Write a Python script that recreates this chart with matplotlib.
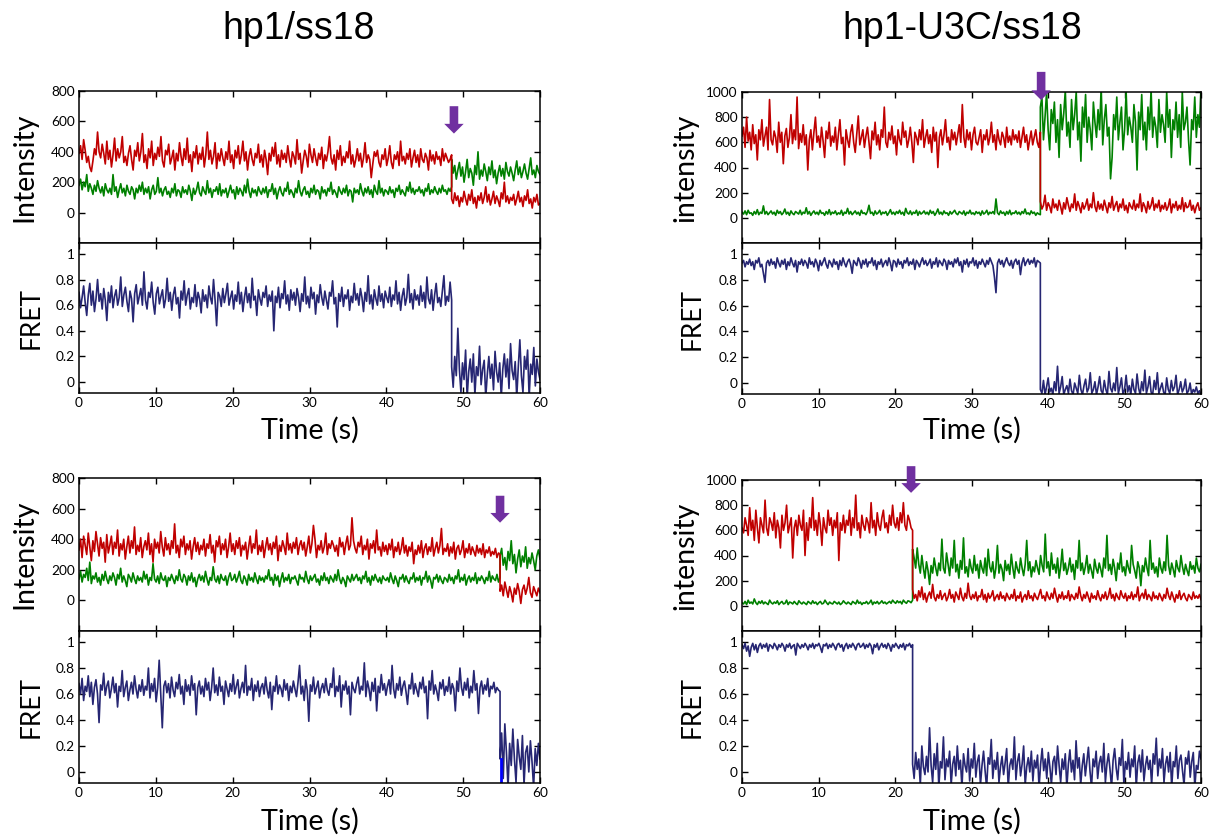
import numpy as np
import matplotlib
matplotlib.use('Agg')
import matplotlib.pyplot as plt
from matplotlib.ticker import FuncFormatter

plt.rcParams['font.family'] = ['Lato', 'DejaVu Sans']

W, H = 1211, 836
RED = '#C00000'
GREEN = '#008000'
NAVY = '#262673'
ARROW = '#7030A0'

# ---------------- Panel 1 : hp1/ss18 (top) ----------------
p1_step = 48.5
p1_red_pre = [
    390, 440, 350, 480, 410, 330, 370, 300, 270, 340, 420, 380, 530, 400, 360, 450, 390, 320, 470, 350,
    410, 300, 380, 490, 340, 420, 360, 400, 500, 330, 370, 310, 390, 440, 350, 280, 410, 370, 460, 340,
    400, 520, 330, 380, 290, 420, 360, 470, 310, 390, 350, 430, 370, 500, 340, 300, 410, 380, 450, 320,
    360, 410, 280, 390, 340, 460, 370, 310, 420, 350, 490, 330, 380, 270, 400, 360, 440, 320, 390, 350,
    430, 300, 380, 530, 350, 410, 320, 370, 460, 290, 390, 340, 420, 360, 310, 400, 350, 470, 330, 380,
    290, 410, 360, 440, 320, 380, 470, 340, 400, 280, 370, 420, 350, 310, 390, 360, 450, 330, 380, 300,
    410, 350, 250, 390, 340, 430, 370, 460, 320, 380, 300, 410, 350, 390, 330, 440, 360, 300, 400, 370,
    320, 480, 350, 390, 260, 340, 410, 370, 300, 450, 380, 330, 420, 360, 310, 390, 350, 430, 290, 380,
    340, 400, 500, 360, 320, 380, 280, 410, 350, 440, 310, 370, 330, 400, 360, 470, 320, 380, 300, 350,
    420, 340, 390, 300, 360, 460, 330, 380, 350, 230, 320, 400, 370, 410, 330, 300, 380, 350, 420, 310,
    360, 440, 330, 290, 380, 350, 400, 310, 470, 340, 370, 320, 390, 350, 420, 300, 360, 410, 330, 380,
    300, 420, 350, 330, 390, 360, 280, 410, 340, 380, 320, 400, 350, 370, 310, 420, 340, 390, 360, 330,
    350, 380]
p1_red_post = [
    90, 60, 130, 80, 110, 40, 100, 70, 140, 90, 50, 120, 80, 150, 60, 100, 30, 110, 80, 130,
    60, 100, 170, 70, 120, 50, 90, 140, 60, 110, 80, 40, 130, 90, 200, 70, 110, 60, 100, 80,
    120, 50, 90, 140, 70, 100, 40, 110, 80, 150, 60, 90, 30, 100, 70, 120, 50, 60]
p1_green_pre = [
    180, 220, 150, 200, 170, 250, 140, 190, 160, 120, 180, 140, 210, 160, 130, 170, 110, 190, 150, 130,
    160, 120, 250, 140, 170, 100, 150, 190, 130, 160, 110, 180, 140, 120, 170, 150, 90, 160, 130, 180,
    140, 200, 120, 160, 130, 170, 90, 150, 180, 120, 140, 230, 130, 160, 110, 150, 170, 120, 140, 100,
    160, 130, 190, 110, 150, 140, 100, 170, 130, 150, 120, 180, 140, 80, 160, 120, 150, 200, 130, 110,
    170, 140, 120, 210, 130, 160, 100, 150, 140, 170, 120, 190, 110, 150, 130, 160, 100, 140, 180, 130,
    150, 90, 170, 120, 160, 140, 110, 180, 130, 220, 140, 100, 160, 130, 150, 110, 170, 140, 120, 160,
    130, 170, 100, 150, 140, 190, 120, 160, 90, 140, 170, 130, 110, 160, 140, 200, 120, 150, 130, 100,
    160, 130, 210, 140, 110, 150, 170, 120, 140, 100, 160, 130, 180, 120, 150, 140, 90, 170, 130, 150,
    110, 160, 140, 200, 120, 150, 130, 100, 170, 140, 120, 160, 130, 180, 110, 150, 140, 70, 160, 130,
    150, 120, 190, 140, 110, 160, 130, 170, 120, 150, 100, 180, 140, 120, 210, 130, 160, 110, 150, 140,
    120, 170, 130, 150, 100, 160, 140, 180, 120, 150, 130, 110, 170, 140, 200, 130, 160, 120, 150, 140,
    170, 130, 150, 110, 160, 140, 190, 120, 150, 130, 170, 140, 120, 160, 130, 180, 140, 150, 120, 160,
    140, 170]
p1_green_post = [
    350, 260, 310, 220, 280, 330, 240, 300, 200, 270, 350, 230, 290, 260, 180, 310, 250, 400, 220, 280,
    240, 320, 270, 210, 300, 250, 340, 230, 280, 190, 260, 310, 240, 290, 220, 330, 270, 240, 300, 260,
    210, 280, 340, 250, 300, 230, 270, 320, 260, 220, 290, 360, 250, 280, 230, 310, 270, 250]
p1_fret_pre = [
    0.70, 0.58, 0.66, 0.75, 0.62, 0.52, 0.68, 0.77, 0.60, 0.71, 0.55, 0.65, 0.80, 0.63, 0.69, 0.57, 0.73, 0.64, 0.48, 0.70,
    0.62, 0.75, 0.58, 0.67, 0.72, 0.60, 0.66, 0.82, 0.59, 0.68, 0.74, 0.63, 0.55, 0.71, 0.65, 0.47, 0.69, 0.76, 0.61, 0.67,
    0.73, 0.60, 0.86, 0.64, 0.57, 0.70, 0.66, 0.78, 0.62, 0.53, 0.69, 0.74, 0.61, 0.67, 0.72, 0.58, 0.65, 0.81, 0.63, 0.70,
    0.56, 0.68, 0.74, 0.61, 0.66, 0.50, 0.71, 0.64, 0.79, 0.60, 0.68, 0.73, 0.57, 0.66, 0.62, 0.76, 0.59, 0.70, 0.65, 0.54,
    0.72, 0.63, 0.68, 0.58, 0.75, 0.66, 0.61, 0.80, 0.64, 0.44, 0.70, 0.67, 0.59, 0.73, 0.62, 0.69, 0.77, 0.60, 0.66, 0.71,
    0.57, 0.68, 0.63, 0.78, 0.61, 0.70, 0.55, 0.66, 0.74, 0.62, 0.69, 0.58, 0.81, 0.64, 0.67, 0.52, 0.72, 0.65, 0.60, 0.70,
    0.66, 0.75, 0.59, 0.68, 0.63, 0.71, 0.40, 0.67, 0.62, 0.74, 0.58, 0.69, 0.65, 0.79, 0.61, 0.68, 0.56, 0.72, 0.64, 0.70,
    0.60, 0.73, 0.66, 0.55, 0.69, 0.63, 0.82, 0.61, 0.67, 0.58, 0.74, 0.65, 0.70, 0.53, 0.68, 0.62, 0.76, 0.66, 0.60, 0.71,
    0.64, 0.57, 0.70, 0.67, 0.79, 0.61, 0.66, 0.43, 0.69, 0.63, 0.74, 0.59, 0.68, 0.65, 0.72, 0.56, 0.67, 0.62, 0.77, 0.64,
    0.69, 0.60, 0.73, 0.66, 0.55, 0.70, 0.63, 0.83, 0.61, 0.68, 0.57, 0.72, 0.65, 0.60, 0.75, 0.63, 0.69, 0.58, 0.71, 0.66,
    0.62, 0.74, 0.59, 0.68, 0.64, 0.79, 0.61, 0.70, 0.56, 0.67, 0.73, 0.60, 0.66, 0.84, 0.62, 0.69, 0.57, 0.72, 0.64, 0.68,
    0.60, 0.75, 0.63, 0.70, 0.58, 0.82, 0.65, 0.61, 0.72, 0.56, 0.68, 0.77, 0.62, 0.66, 0.59, 0.71, 0.83, 0.60, 0.67, 0.63,
    0.78, 0.64]
p1_fret_post = [
    0.12, -0.04, 0.20, 0.05, 0.42, 0.10, -0.08, 0.15, 0.02, 0.25, -0.12, 0.08, 0.18, 0.00, 0.22, -0.10, 0.12, 0.05, 0.28, -0.02,
    0.10, 0.17, -0.12, 0.06, 0.20, 0.03, 0.14, -0.06, 0.24, 0.08, 0.00, 0.15, -0.12, 0.10, 0.22, 0.04, 0.18, -0.05, 0.30, 0.09,
    0.02, 0.16, -0.12, 0.12, 0.33, 0.05, -0.08, 0.20, 0.10, 0.25, -0.12, 0.14, 0.06, 0.27, -0.03, 0.18, 0.08, 0.02]

# ---------------- Panel 2 : hp1-U3C/ss18 (top) ----------------
p2_step = 39.0
p2_red_pre = [
    650, 720, 560, 800, 610, 680, 540, 740, 590, 660, 460, 700, 620, 780, 570, 650, 720, 540, 940, 620,
    580, 690, 640, 520, 760, 600, 680, 430, 650, 710, 560, 640, 820, 590, 700, 620, 960, 550, 670, 600,
    740, 580, 660, 380, 620, 700, 540, 680, 800, 600, 650, 560, 720, 610, 480, 690, 630, 760, 570, 650,
    600, 720, 540, 660, 780, 590, 640, 420, 700, 620, 560, 680, 740, 600, 520, 660, 810, 580, 640, 700,
    560, 650, 720, 600, 470, 690, 620, 760, 580, 660, 540, 700, 640, 880, 600, 560, 680, 620, 730, 590,
    650, 500, 700, 620, 580, 760, 640, 690, 560, 620, 720, 600, 440, 680, 640, 580, 700, 620, 780, 560,
    640, 700, 590, 660, 520, 720, 610, 680, 400, 640, 700, 580, 660, 780, 600, 640, 540, 700, 620, 680,
    580, 660, 740, 600, 900, 640, 560, 700, 620, 680, 540, 660, 720, 600, 580, 640, 700, 520, 660, 620,
    700, 580, 640, 760, 600, 660, 540, 700, 620, 580, 680, 640, 560, 720, 600, 650, 580, 700, 620, 660,
    600, 690, 560, 640, 720, 600, 660, 540, 620, 690, 580, 640, 700, 600, 560, 680]
p2_red_post = [
    130, 70, 100, 180, 60, 120, 90, 40, 150, 80, 110, 60, 140, 90, 30, 120, 70, 160, 100, 50,
    110, 80, 190, 60, 130, 90, 40, 120, 70, 100, 150, 60, 110, 80, 200, 90, 50, 130, 70, 110,
    60, 140, 90, 40, 120, 80, 170, 60, 100, 130, 50, 110, 80, 150, 60, 100, 40, 120, 90, 70,
    140, 60, 110, 80, 190, 50, 120, 90, 40, 130, 70, 100, 160, 60, 110, 80, 140, 50, 100, 70,
    120, 60, 90, 150, 40, 110, 80, 130, 60, 100, 70, 160, 50, 120, 80, 90, 140, 60, 100, 40,
    90, 120, 60, 80]
p2_green_pre = [
    45, 30, 55, 25, 60, 35, 40, 20, 50, 30, 65, 25, 45, 35, 95, 30, 50, 25, 40, 55,
    30, 45, 20, 60, 35, 50, 25, 40, 70, 30, 45, 20, 55, 35, 25, 50, 40, 30, 60, 25,
    45, 35, 80, 30, 50, 20, 40, 55, 30, 45, 25, 60, 35, 40, 20, 50, 30, 65, 25, 45,
    35, 55, 25, 40, 30, 60, 20, 45, 35, 75, 30, 50, 25, 40, 55, 30, 45, 20, 60, 35,
    40, 25, 50, 100, 35, 45, 20, 55, 30, 40, 60, 25, 45, 35, 50, 20, 40, 65, 30, 45,
    25, 50, 35, 60, 30, 45, 20, 75, 40, 30, 55, 25, 45, 35, 60, 20, 50, 30, 40, 55,
    30, 45, 25, 60, 35, 50, 20, 40, 70, 30, 45, 25, 55, 35, 40, 20, 50, 30, 45, 60,
    35, 25, 50, 40, 30, 55, 20, 45, 35, 60, 30, 40, 25, 50, 35, 45, 20, 55, 30, 40,
    60, 25, 45, 35, 50, 30, 150, 40, 25, 55, 35, 45, 20, 50, 30, 60, 25, 40, 35, 55,
    30, 45, 25, 50, 35, 70, 30, 40, 25, 55, 35, 45, 20, 40, 30, 25]
p2_green_post = [
    880, 960, 620, 800, 1000, 700, 540, 860, 750, 920, 600, 780, 480, 900, 700, 830, 1010, 650, 760, 560,
    940, 700, 820, 1000, 620, 760, 450, 880, 720, 980, 600, 800, 700, 540, 920, 760, 640, 860, 700, 1040,
    580, 780, 900, 650, 720, 310, 480, 820, 700, 960, 620, 760, 880, 540, 700, 1000, 660, 800, 720, 600,
    900, 760, 380, 840, 700, 980, 620, 760, 540, 880, 700, 1020, 640, 800, 720, 560, 940, 680, 820, 740,
    600, 1000, 720, 860, 480, 780, 700, 920, 640, 820, 560, 1000, 700, 760, 880, 620, 420, 780, 700, 960,
    640, 820, 720, 1040]
p2_fret_pre = [
    0.93, 0.95, 0.90, 0.94, 0.92, 0.96, 0.91, 0.94, 0.88, 0.95, 0.93, 0.97, 0.90, 0.92, 0.85, 0.78, 0.93, 0.95, 0.91, 0.96,
    0.92, 0.94, 0.89, 0.97, 0.93, 0.90, 0.95, 0.92, 0.96, 0.88, 0.94, 0.91, 0.97, 0.93, 0.90, 0.95, 0.86, 0.94, 0.92, 0.96,
    0.91, 0.95, 0.93, 0.89, 0.97, 0.92, 0.94, 0.90, 0.96, 0.93, 0.87, 0.95, 0.91, 0.94, 0.97, 0.92, 0.89, 0.95, 0.93, 0.90,
    0.96, 0.92, 0.94, 0.88, 0.95, 0.91, 0.97, 0.93, 0.90, 0.94, 0.96, 0.92, 0.85, 0.95, 0.93, 0.91, 0.97, 0.94, 0.89, 0.95,
    0.92, 0.96, 0.90, 0.94, 0.93, 0.97, 0.91, 0.95, 0.88, 0.94, 0.92, 0.96, 0.90, 0.93, 0.95, 0.91, 0.97, 0.93, 0.87, 0.95,
    0.94, 0.90, 0.96, 0.92, 0.94, 0.89, 0.95, 0.93, 0.97, 0.91, 0.94, 0.92, 0.96, 0.88, 0.95, 0.93, 0.90, 0.94, 0.97, 0.92,
    0.95, 0.91, 0.93, 0.96, 0.89, 0.94, 0.92, 0.97, 0.90, 0.95, 0.93, 0.91, 0.96, 0.94, 0.88, 0.95, 0.92, 0.94, 0.90, 0.96,
    0.93, 0.97, 0.91, 0.94, 0.86, 0.95, 0.92, 0.96, 0.90, 0.94, 0.93, 0.97, 0.91, 0.95, 0.89, 0.94, 0.92, 0.96, 0.93, 0.90,
    0.95, 0.92, 0.97, 0.94, 0.91, 0.82, 0.70, 0.93, 0.96, 0.92, 0.95, 0.90, 0.94, 0.97, 0.93, 0.91, 0.95, 0.89, 0.94, 0.96,
    0.92, 0.95, 0.84, 0.93, 0.97, 0.91, 0.94, 0.96, 0.92, 0.95, 0.93, 0.97, 0.90, 0.95, 0.94, 0.93]
p2_fret_post = [
    -0.05, -0.08, 0.02, -0.09, -0.03, 0.04, -0.07, -0.04, -0.09, 0.01, -0.06, 0.13, -0.08, -0.03, 0.05, -0.09, -0.05, -0.02, -0.08, 0.03,
    -0.06, -0.09, 0.00, -0.04, -0.08, 0.06, -0.05, -0.09, -0.02, 0.03, -0.07, -0.04, 0.08, -0.08, -0.05, 0.01, -0.09, -0.03, 0.05, -0.06,
    -0.08, 0.02, -0.05, -0.09, 0.09, -0.04, -0.07, 0.00, -0.06, 0.12, -0.08, -0.03, 0.04, -0.09, -0.05, 0.06, -0.07, -0.02, -0.09, 0.03,
    -0.05, -0.08, 0.07, -0.04, -0.09, 0.01, -0.06, 0.10, -0.08, -0.03, 0.05, -0.07, -0.09, 0.02, -0.05, 0.08, -0.08, -0.04, 0.00, -0.07,
    -0.09, 0.04, -0.05, -0.08, 0.02, -0.06, -0.03, 0.06, -0.09, -0.05, 0.01, -0.07, -0.04, 0.03, -0.08, -0.06, 0.00, -0.09, -0.05, -0.07,
    -0.03, -0.08, -0.06, -0.09]

# ---------------- Panel 3 : hp1/ss18 (bottom) ----------------
p3_step = 54.8
p3_red_pre = [
    330, 400, 280, 420, 360, 300, 440, 350, 260, 390, 320, 450, 370, 290, 410, 340, 380, 250, 430, 310,
    360, 420, 300, 380, 340, 460, 290, 370, 330, 400, 270, 350, 420, 310, 390, 340, 480, 300, 360, 320,
    410, 280, 350, 390, 330, 440, 300, 370, 250, 400, 340, 380, 310, 450, 350, 290, 410, 330, 370, 300,
    390, 340, 500, 310, 360, 280, 400, 350, 420, 300, 370, 330, 390, 270, 350, 410, 320, 380, 300, 360,
    330, 400, 290, 370, 340, 430, 310, 360, 250, 390, 350, 420, 300, 370, 330, 400, 280, 350, 440, 320,
    370, 300, 390, 340, 410, 290, 360, 330, 380, 270, 350, 420, 310, 370, 340, 460, 300, 360, 320, 390,
    280, 350, 410, 330, 370, 300, 380, 340, 420, 260, 360, 320, 390, 350, 300, 440, 330, 370, 310, 380,
    340, 410, 300, 360, 390, 330, 380, 290, 350, 420, 310, 370, 490, 400, 280, 360, 330, 390, 310, 350,
    440, 300, 370, 340, 390, 360, 320, 360, 290, 410, 350, 380, 300, 370, 420, 330, 360, 540, 390, 340,
    310, 380, 350, 420, 300, 360, 330, 400, 270, 370, 340, 390, 310, 460, 330, 350, 290, 380, 320, 360,
    300, 370, 330, 400, 280, 350, 320, 380, 300, 340, 410, 310, 360, 290, 350, 320, 380, 240, 330, 300,
    360, 310, 390, 280, 340, 370, 300, 350, 320, 410, 290, 340, 380, 310, 360, 470, 300, 340, 320, 370,
    290, 350, 310, 380, 270, 340, 360, 300, 330, 390, 280, 340, 310, 370, 300, 350, 320, 290, 360, 310,
    340, 300, 370, 280, 330, 310, 350, 290, 320, 300, 340, 280, 310, 300]
p3_red_post = [60, 100, 30, 120, 70, 20, 90, 50, -10, 80, 40, 110, 60, -20, 70, 100, 40, 80, 150, 50,
               20, 90, 60, 30, 80, 50]
p3_green_pre = [
    140, 190, 120, 170, 150, 210, 130, 250, 110, 160, 140, 180, 120, 150, 100, 170, 130, 190, 140, 110,
    160, 130, 180, 150, 100, 170, 140, 210, 120, 160, 130, 90, 170, 150, 120, 180, 140, 110, 160, 130,
    150, 120, 190, 140, 170, 100, 150, 130, 240, 140, 120, 160, 110, 180, 140, 130, 160, 90, 150, 130,
    170, 140, 110, 160, 130, 200, 140, 120, 170, 150, 100, 160, 130, 180, 120, 150, 90, 140, 170, 130,
    160, 120, 190, 140, 100, 150, 130, 220, 140, 120, 160, 110, 170, 140, 130, 160, 100, 150, 180, 130,
    140, 170, 120, 150, 190, 130, 110, 160, 140, 100, 170, 130, 150, 120, 180, 140, 110, 160, 130, 150,
    120, 160, 140, 200, 130, 150, 100, 170, 130, 160, 90, 140, 180, 120, 150, 130, 170, 110, 150, 140,
    160, 130, 100, 170, 140, 150, 120, 190, 140, 110, 160, 130, 150, 170, 120, 140, 100, 160, 130, 180,
    130, 150, 110, 160, 140, 120, 170, 130, 200, 140, 110, 150, 130, 90, 160, 140, 120, 170, 130, 150,
    170, 130, 150, 110, 160, 140, 190, 120, 150, 100, 160, 130, 170, 140, 120, 150, 110, 160, 140, 130,
    150, 120, 180, 140, 110, 160, 130, 90, 150, 140, 170, 120, 160, 130, 110, 150, 140, 180, 120, 150,
    130, 160, 100, 150, 140, 190, 120, 160, 130, 80, 150, 140, 170, 120, 160, 130, 110, 150, 140, 120,
    170, 130, 150, 110, 160, 140, 200, 120, 150, 130, 170, 100, 140, 160, 120, 150, 130, 180, 110, 150,
    130, 160, 140, 110, 150, 130, 190, 120, 160, 140, 130, 170, 120, 150]
p3_green_post = [290, 340, 230, 280, 200, 320, 260, 390, 240, 300, 180, 270, 330, 220, 290, 250, 350, 210,
                 280, 240, 310, 260, 200, 290, 330, 270]
p3_fret_pre = [
    0.68, 0.60, 0.72, 0.55, 0.66, 0.62, 0.74, 0.58, 0.69, 0.52, 0.65, 0.71, 0.60, 0.38, 0.67, 0.63, 0.76, 0.59, 0.66, 0.70,
    0.57, 0.64, 0.73, 0.61, 0.68, 0.50, 0.66, 0.62, 0.78, 0.58, 0.65, 0.70, 0.55, 0.63, 0.69, 0.60, 0.74, 0.64, 0.57, 0.67,
    0.62, 0.71, 0.59, 0.66, 0.63, 0.80, 0.57, 0.68, 0.62, 0.72, 0.54, 0.65, 0.86, 0.60, 0.34, 0.66, 0.70, 0.61, 0.68, 0.57,
    0.73, 0.63, 0.58, 0.69, 0.64, 0.75, 0.60, 0.66, 0.52, 0.71, 0.62, 0.67, 0.59, 0.74, 0.63, 0.68, 0.44, 0.65, 0.70, 0.60,
    0.66, 0.58, 0.72, 0.63, 0.69, 0.55, 0.65, 0.80, 0.61, 0.67, 0.59, 0.73, 0.62, 0.66, 0.52, 0.70, 0.64, 0.58, 0.68, 0.62,
    0.75, 0.60, 0.66, 0.71, 0.57, 0.64, 0.69, 0.61, 0.82, 0.59, 0.66, 0.63, 0.72, 0.55, 0.67, 0.62, 0.70, 0.58, 0.65, 0.68,
    0.60, 0.73, 0.63, 0.57, 0.69, 0.48, 0.66, 0.62, 0.74, 0.60, 0.67, 0.64, 0.58, 0.71, 0.63, 0.68, 0.55, 0.66, 0.61, 0.70,
    0.64, 0.58, 0.69, 0.82, 0.60, 0.66, 0.55, 0.71, 0.63, 0.39, 0.67, 0.62, 0.73, 0.60, 0.65, 0.70, 0.57, 0.64, 0.68, 0.61,
    0.72, 0.63, 0.59, 0.68, 0.65, 0.80, 0.58, 0.66, 0.62, 0.74, 0.50, 0.67, 0.63, 0.70, 0.60, 0.66, 0.44, 0.69, 0.64, 0.61,
    0.68, 0.73, 0.60, 0.66, 0.63, 0.84, 0.58, 0.70, 0.64, 0.55, 0.69, 0.62, 0.72, 0.47, 0.66, 0.61, 0.75, 0.63, 0.68, 0.59,
    0.66, 0.71, 0.60, 0.82, 0.64, 0.57, 0.68, 0.63, 0.73, 0.59, 0.66, 0.70, 0.62, 0.52, 0.67, 0.64, 0.76, 0.60, 0.68, 0.63,
    0.58, 0.69, 0.64, 0.73, 0.61, 0.66, 0.41, 0.70, 0.63, 0.78, 0.60, 0.67, 0.62, 0.55, 0.69, 0.64, 0.71, 0.59, 0.66, 0.62,
    0.73, 0.60, 0.68, 0.64, 0.47, 0.70, 0.62, 0.80, 0.65, 0.59, 0.69, 0.63, 0.72, 0.57, 0.66, 0.61, 0.78, 0.63, 0.68, 0.45,
    0.65, 0.70, 0.60, 0.67, 0.63, 0.72, 0.58, 0.66, 0.64, 0.69, 0.61, 0.65, 0.63, 0.62]
p3_fret_post = [0.10, 0.30, -0.05, 0.37, 0.15, -0.12, 0.22, 0.05, 0.33, 0.10, -0.08, 0.25, 0.12, 0.02,
                0.28, -0.10, 0.15, 0.20, 0.00, 0.24, 0.08, -0.12, 0.18, 0.05, 0.22, 0.10]
p3_fret_blip = [0.10, -0.10]

# ---------------- Panel 4 : hp1-U3C/ss18 (bottom) ----------------
p4_step = 22.3
p4_red_pre = [
    620, 580, 700, 640, 560, 780, 600, 680, 520, 760, 620, 500, 700, 640, 580, 840, 620, 560, 700, 660,
    600, 740, 540, 680, 620, 460, 720, 600, 660, 800, 580, 640, 700, 380, 620, 680, 560, 720, 640, 600,
    760, 400, 660, 520, 700, 620, 860, 600, 680, 560, 740, 640, 480, 700, 620, 580, 760, 640, 700, 560,
    680, 620, 740, 360, 660, 600, 720, 580, 680, 640, 760, 560, 700, 620, 880, 600, 660, 540, 720, 640,
    600, 700, 660, 580, 820, 620, 680, 560, 740, 640, 600, 700, 760, 620, 660, 580, 720, 640, 800, 660,
    620, 700, 600, 740, 660, 820, 640, 600, 720, 680, 620, 600]
p4_red_post = [
    130, 60, 90, 40, 120, 70, 150, 50, 100, 30, 80, 110, 60, 170, 70, 40, 90, 60, 120, 50,
    80, 100, 40, 70, 130, 60, 90, 30, 110, 80, 50, 140, 70, 40, 100, 60, 180, 80, 50, 90,
    60, 110, 40, 80, 70, 130, 50, 90, 30, 100, 60, 80, 120, 40, 70, 90, 50, 110, 60, 80,
    40, 100, 70, 50, 90, 60, 130, 40, 80, 60, 110, 30, 70, 90, 50, 120, 60, 80, 40, 100,
    70, 50, 90, 130, 60, 80, 40, 110, 70, 50, 100, 60, 140, 80, 30, 90, 60, 110, 50, 80,
    60, 120, 40, 90, 70, 50, 100, 60, 150, 80, 40, 90, 60, 110, 70, 30, 100, 60, 80, 50,
    120, 70, 40, 90, 60, 110, 50, 80, 140, 60, 90, 40, 100, 70, 50, 120, 80, 60, 100, 40,
    80, 60, 110, 50, 90, 70, 150, 40, 80, 100, 60, 130, 50, 90, 70, 40, 110, 60, 80, 50,
    100, 70, 40, 90, 60, 140, 80, 50, 110, 70, 30, 90, 60, 120, 50, 80, 100, 60, 40, 90,
    70, 50, 110, 60, 80, 60, 90, 50]
p4_green_pre = [
    25, 15, 35, 10, 45, 20, 30, 15, 55, 25, 10, 35, 20, 40, 15, 30, 20, 10, 45, 25,
    15, 30, 20, 40, 10, 25, 35, 15, 20, 45, 10, 30, 25, 15, 35, 20, 10, 40, 25, 15,
    30, 20, 10, 35, 25, 15, 40, 20, 30, 10, 25, 35, 15, 20, 45, 25, 10, 30, 20, 15,
    35, 25, 15, 30, 10, 20, 40, 25, 15, 30, 20, 10, 35, 25, 15, 45, 20, 30, 10, 25,
    20, 35, 15, 25, 45, 10, 30, 20, 35, 15, 25, 40, 20, 30, 15, 25, 35, 20, 45, 30,
    20, 40, 25, 35, 15, 45, 30, 20, 40, 35, 25, 45]
p4_green_post = [
    450, 380, 300, 460, 330, 260, 400, 300, 220, 350, 280, 170, 320, 260, 380, 300, 240, 340, 280, 530,
    300, 260, 420, 330, 240, 380, 300, 520, 270, 330, 220, 360, 290, 540, 260, 310, 230, 370, 300, 260,
    400, 280, 330, 220, 360, 300, 260, 380, 240, 450, 310, 270, 350, 220, 300, 480, 260, 330, 290, 200,
    360, 280, 330, 250, 410, 300, 220, 350, 290, 260, 380, 300, 240, 330, 520, 280, 350, 230, 310, 270,
    360, 300, 250, 400, 320, 270, 570, 300, 350, 240, 420, 290, 330, 260, 380, 220, 310, 450, 280, 340,
    250, 300, 380, 270, 330, 210, 360, 300, 520, 280, 340, 250, 310, 400, 260, 330, 280, 220, 370, 300,
    260, 340, 290, 230, 380, 300, 560, 280, 330, 250, 370, 300, 200, 340, 290, 420, 270, 310, 240, 360,
    300, 260, 480, 330, 280, 220, 350, 300, 160, 320, 270, 380, 300, 240, 520, 290, 340, 260, 310, 230,
    380, 300, 260, 350, 280, 560, 320, 250, 340, 290, 230, 360, 300, 270, 400, 310, 250, 330, 280, 240,
    350, 290, 320, 260, 380, 300, 270, 330]
p4_fret_pre = [
    0.98, 0.95, 0.99, 0.93, 0.97, 0.89, 0.96, 0.99, 0.94, 0.98, 0.92, 0.97, 0.99, 0.95, 0.98, 0.96, 0.99, 0.93, 0.98, 0.97,
    0.95, 0.99, 0.97, 0.94, 0.98, 0.96, 0.99, 0.97, 0.93, 0.98, 0.96, 0.99, 0.95, 0.97, 0.98, 0.90, 0.99, 0.97, 0.95, 0.98,
    0.96, 0.99, 0.97, 0.94, 0.98, 0.96, 0.99, 0.95, 0.98, 0.97, 0.99, 0.96, 0.92, 0.98, 0.97, 0.99, 0.95, 0.98, 0.96, 0.99,
    0.97, 0.94, 0.98, 0.99, 0.96, 0.98, 0.93, 0.97, 0.99, 0.95, 0.98, 0.96, 0.99, 0.97, 0.94, 0.98, 0.99, 0.96, 0.97, 0.99,
    0.95, 0.98, 0.96, 0.99, 0.97, 0.91, 0.98, 0.96, 0.99, 0.94, 0.97, 0.99, 0.96, 0.98, 0.95, 0.99, 0.97, 0.93, 0.98, 0.96,
    0.99, 0.97, 0.95, 0.98, 0.96, 0.99, 0.94, 0.98, 0.97, 0.99, 0.96, 0.98]
p4_fret_post = [
    0.06, -0.05, 0.15, 0.02, 0.10, -0.10, 0.20, 0.04, -0.02, 0.12, 0.00, 0.34, 0.05, -0.08, 0.14, 0.02, 0.22, -0.12, 0.08, 0.03,
    0.27, -0.06, 0.10, 0.04, 0.16, -0.10, 0.06, 0.12, -0.03, 0.20, 0.02, 0.09, -0.12, 0.14, 0.05, 0.00, 0.18, -0.07, 0.10, 0.03,
    0.22, -0.04, 0.08, 0.13, -0.10, 0.05, 0.16, 0.01, -0.12, 0.11, 0.06, 0.25, -0.05, 0.09, 0.02, 0.15, -0.08, 0.04, 0.12, -0.02,
    0.07, 0.18, -0.12, 0.05, 0.10, 0.02, 0.27, -0.06, 0.08, 0.14, -0.03, 0.06, 0.20, -0.10, 0.04, 0.11, 0.00, 0.16, -0.07, 0.09,
    0.03, 0.13, -0.12, 0.06, 0.18, 0.01, 0.10, -0.05, 0.15, 0.04, -0.10, 0.08, 0.12, -0.02, 0.20, 0.05, -0.08, 0.10, 0.02, 0.14,
    -0.12, 0.06, 0.17, 0.00, 0.09, -0.06, 0.24, 0.03, 0.11, -0.10, 0.05, 0.14, -0.03, 0.08, 0.19, 0.01, -0.12, 0.10, 0.04, 0.16,
    -0.05, 0.07, 0.12, 0.00, 0.22, -0.08, 0.06, 0.14, 0.02, -0.12, 0.09, 0.18, 0.03, -0.06, 0.11, 0.05, 0.25, -0.10, 0.08, 0.02,
    0.15, -0.04, 0.10, 0.04, 0.20, -0.12, 0.07, 0.13, 0.00, 0.17, -0.07, 0.05, 0.12, 0.02, 0.09, -0.10, 0.14, 0.06, 0.26, -0.03,
    0.10, 0.03, 0.18, -0.08, 0.06, 0.12, 0.00, 0.15, -0.12, 0.08, 0.04, 0.20, -0.05, 0.09, 0.13, 0.01, -0.10, 0.11, 0.06, 0.16,
    -0.04, 0.08, 0.15, -0.12, 0.05, 0.02, 0.16, 0.10]

titles = ['hp1/ss18', 'hp1-U3C/ss18']
x_ticks = [0, 10, 20, 30, 40, 50, 60]
fret_ticks = [0, 0.2, 0.4, 0.6, 0.8, 1]
int_ticks_a = [0, 200, 400, 600, 800]
int_ticks_b = [0, 200, 400, 600, 800, 1000]

panels = [
    dict(step=p1_step, red=(p1_red_pre, p1_red_post), green=(p1_green_pre, p1_green_post),
         fret=(p1_fret_pre, p1_fret_post), ymax=800, yticks=int_ticks_a,
         arrow=(48.8, 700, 520), box=(79, 540, 91, 243, 393), ylab='Intensity',
         labx=(24, 31), timey=430),
    dict(step=p2_step, red=(p2_red_pre, p2_red_post), green=(p2_green_pre, p2_green_post),
         fret=(p2_fret_pre, p2_fret_post), ymax=1000, yticks=int_ticks_b,
         arrow=(39.1, 1160, 936), box=(742, 1201, 92, 243, 394), ylab='intensity',
         labx=(685, 692), timey=430),
    dict(step=p3_step, red=(p3_red_pre, p3_red_post), green=(p3_green_pre, p3_green_post),
         fret=(p3_fret_pre, p3_fret_post), ymax=800, yticks=int_ticks_a,
         arrow=(54.8, 684, 508), box=(79, 540, 478, 631, 783), ylab='Intensity',
         labx=(24, 31), timey=821),
    dict(step=p4_step, red=(p4_red_pre, p4_red_post), green=(p4_green_pre, p4_green_post),
         fret=(p4_fret_pre, p4_fret_post), ymax=1000, yticks=int_ticks_b,
         arrow=(22.1, 1110, 898), box=(742, 1201, 480, 631, 783), ylab='intensity',
         labx=(685, 692), timey=821),
]


def trace(pair, t_step):
    pre, post = pair
    t = np.concatenate([np.linspace(0, t_step, len(pre)), np.linspace(t_step, 60, len(post))])
    return t, np.concatenate([np.asarray(pre, float), np.asarray(post, float)])


fig = plt.figure(figsize=(W / 100, H / 100), dpi=100)


def style(ax):
    for s in ax.spines.values():
        s.set_linewidth(1.1)
    ax.tick_params(direction='in', top=True, right=True, length=4, width=1.0,
                   labelsize=9.8, pad=3)
    ax.set_xlim(0, 60)
    ax.set_xticks(x_ticks)


fmt = FuncFormatter(lambda v, p: f'{v:g}')
LW = 1.2

fret_axes = []
for p in panels:
    l, r, t, m, b = p['box']
    axi = fig.add_axes([l / W, 1 - m / H, (r - l) / W, (m - t) / H])
    axf = fig.add_axes([l / W, 1 - b / H, (r - l) / W, (b - m) / H])
    fret_axes.append(axf)
    style(axi)
    style(axf)
    tg, g = trace(p['green'], p['step'])
    tr, rd = trace(p['red'], p['step'])
    tf, fr = trace(p['fret'], p['step'])
    axi.plot(tg, g, color=GREEN, lw=LW)
    axi.plot(tr, rd, color=RED, lw=LW)
    axf.plot(tf, fr, color=NAVY, lw=LW)
    axi.set_ylim(-200, p['ymax'])
    axi.set_yticks(p['yticks'])
    axi.tick_params(labelbottom=False)
    axf.set_ylim(-0.085, 1.085)
    axf.set_yticks(fret_ticks)
    axf.yaxis.set_major_formatter(fmt)
    ax_, y0, y1 = p['arrow']
    axi.annotate('', xy=(ax_, y1), xytext=(ax_, y0), annotation_clip=False,
                 arrowprops=dict(facecolor=ARROW, edgecolor='none', width=6.2,
                                 headwidth=14, headlength=7, shrink=0))
    fig.text(p['labx'][0] / W, 1 - (t + m) / 2 / H, p['ylab'], rotation=90,
             ha='center', va='center', fontsize=20.5)
    fig.text(p['labx'][1] / W, 1 - (m + b) / 2 / H, 'FRET', rotation=90,
             ha='center', va='center', fontsize=19)
    fig.text((l + r) / 2 / W, 1 - p['timey'] / H, 'Time (s)', ha='center',
             va='center', fontsize=20.7)

# small bright-blue segment at the step of panel 3
fret_axes[2].plot([p3_step + 0.15, p3_step + 0.15], p3_fret_blip, color='#0000FF', lw=2)

for x, ttl in zip([299, 962], titles):
    fig.text(x / W, 1 - 29 / H, ttl, ha='center', va='center', fontsize=27,
             family=['Liberation Sans', 'DejaVu Sans'])

fig.savefig('out.png', dpi=100)
